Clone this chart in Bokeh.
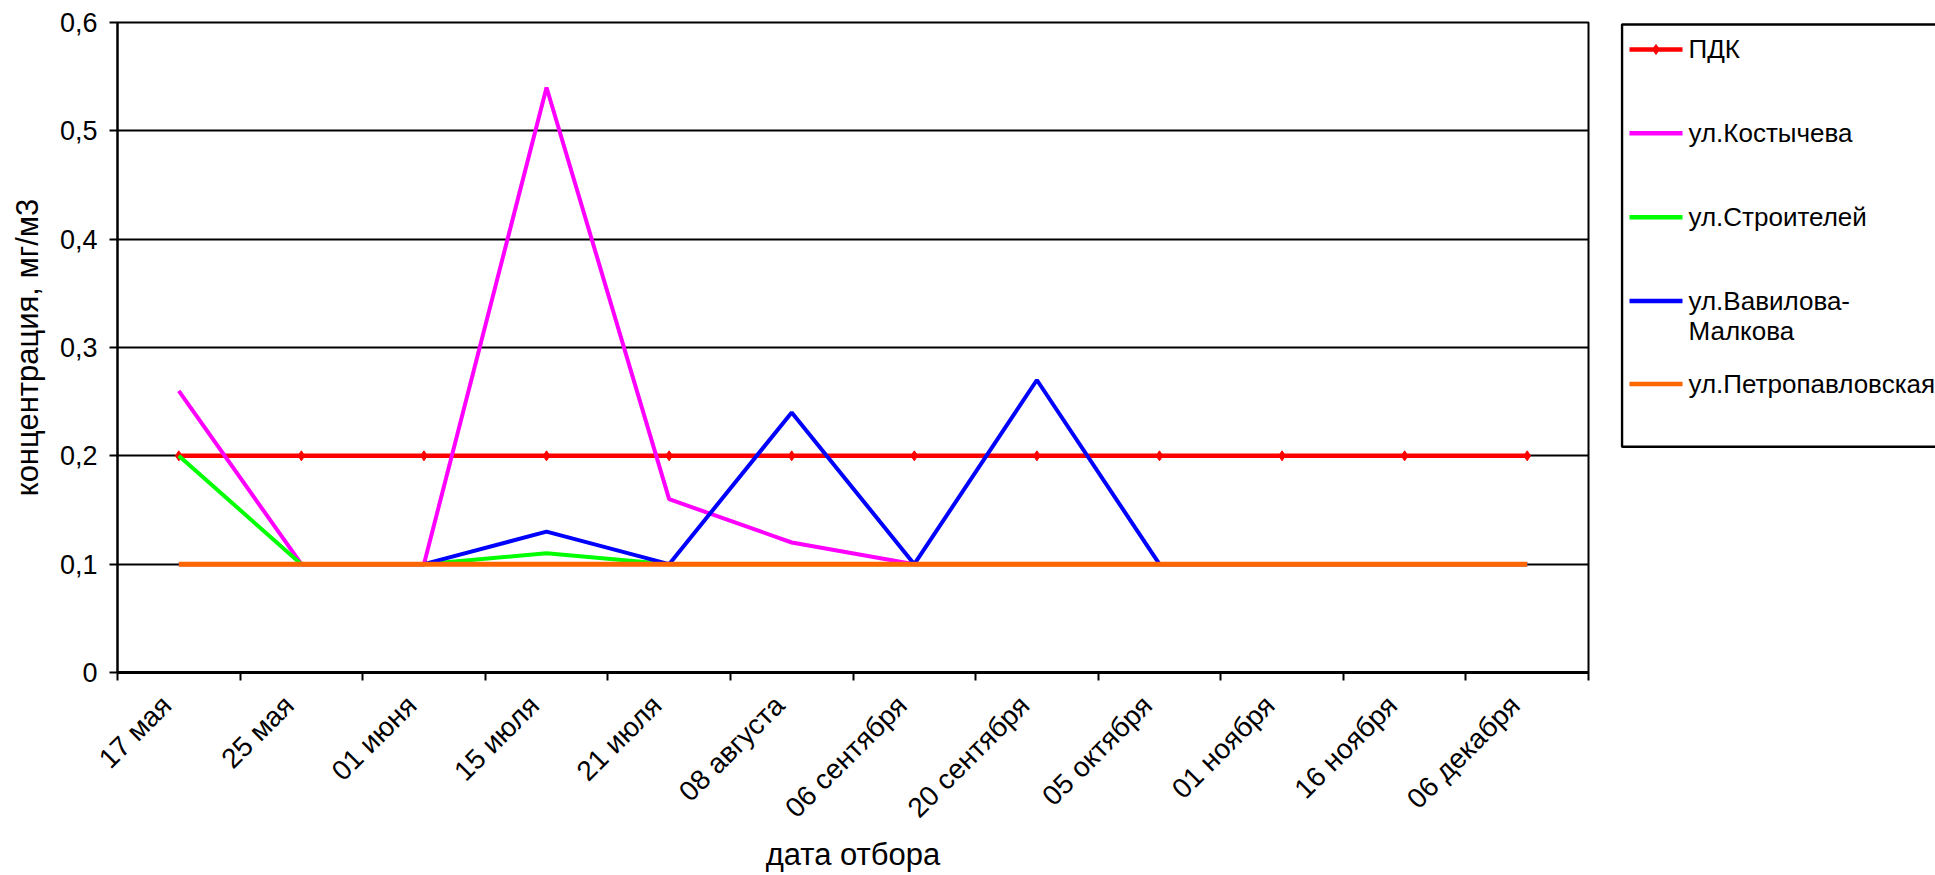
import math
import numpy as np
from bokeh.plotting import figure
from bokeh.layouts import row
from bokeh.models import Range1d, FixedTicker, ColumnDataSource
from bokeh.core.properties import value
from bokeh.embed import file_html
from bokeh.resources import INLINE

# ---------------- data ----------------
dates = ["17 мая", "25 мая", "01 июня", "15 июля", "21 июля", "08 августа",
         "06 сентября", "20 сентября", "05 октября", "01 ноября", "16 ноября", "06 декабря"]
pdk = [0.2, 0.2, 0.2, 0.2, 0.2, 0.2, 0.2, 0.2, 0.2, 0.2, 0.2, 0.2]
kostycheva = [0.26, 0.1, 0.1, 0.54, 0.16, 0.12, 0.1, 0.1, 0.1, 0.1, 0.1, 0.1]
stroiteley = [0.2, 0.1, 0.1, 0.11, 0.1, 0.1, 0.1, 0.1, 0.1, 0.1, 0.1, 0.1]
vavilova = [0.1, 0.1, 0.1, 0.13, 0.1, 0.24, 0.1, 0.27, 0.1, 0.1, 0.1, 0.1]
petropavl = [0.1, 0.1, 0.1, 0.1, 0.1, 0.1, 0.1, 0.1, 0.1, 0.1, 0.1, 0.1]
series_names = ["ПДК", "ул.Костычева", "ул.Строителей", "ул.Вавилова-\nМалкова", "ул.Петропавловская"]
series_colors = ["#FF0000", "#FF00FF", "#00FF00", "#0000FF", "#FF6600"]
y_ticks = [0, 0.1, 0.2, 0.3, 0.4, 0.5, 0.6]
y_tick_labels = ["0", "0,1", "0,2", "0,3", "0,4", "0,5", "0,6"]
x_title = "дата отбора"
y_title = "концентрация, мг/м3"

FONT = "Liberation Sans"
n = len(dates)
xpos = list(np.arange(n) + 0.5)
bounds = list(range(n + 1))
label_shift = 0.1  # labels sit slightly left of the band centre, as in Excel
xlabel_pos = [x - label_shift for x in xpos]

H = 875
TOP, BOTTOM = 22, 202

# ---------------- main chart ----------------
p = figure(width=1620, height=H, output_backend="svg", toolbar_location=None, title=None,
           x_range=Range1d(0, n), y_range=Range1d(0, 0.6),
           min_border_left=117, min_border_right=32, min_border_top=TOP, min_border_bottom=BOTTOM)
p.outline_line_color = "black"
p.outline_line_width = 2
p.background_fill_color = "white"
p.border_fill_color = "white"

p.xgrid.visible = False
p.ygrid.ticker = FixedTicker(ticks=y_ticks)
p.ygrid.grid_line_color = "black"
p.ygrid.grid_line_width = 2
p.ygrid.grid_line_alpha = 1

# y axis
ya = p.yaxis[0]
ya.ticker = FixedTicker(ticks=y_ticks)
ya.major_label_overrides = {t: l for t, l in zip(y_ticks, y_tick_labels)}
ya.major_tick_out = 8
ya.major_tick_in = 0
ya.minor_tick_line_color = None
ya.major_tick_line_width = 2
ya.axis_line_width = 2
ya.major_label_standoff = 12
ya.major_label_text_font = FONT
ya.major_label_text_font_size = "27px"
ya.major_label_text_color = "black"
ya.axis_label = y_title
ya.axis_label_text_font = FONT
ya.axis_label_text_font_size = "31px"
ya.axis_label_text_font_style = "normal"
ya.axis_label_text_color = "black"
ya.axis_label_standoff = 12

# x axis
xa = p.xaxis[0]
xa.ticker = FixedTicker(ticks=xlabel_pos, minor_ticks=bounds)
xa.major_label_overrides = {x: d for x, d in zip(xlabel_pos, dates)}
xa.major_tick_line_color = None
xa.major_tick_out = 0
xa.major_tick_in = 0
xa.minor_tick_out = 8
xa.minor_tick_in = 0
xa.minor_tick_line_color = "black"
xa.minor_tick_line_width = 2
xa.axis_line_width = 3
xa.major_label_orientation = math.pi / 4
xa.major_label_standoff = 20
xa.major_label_text_font = FONT
xa.major_label_text_font_size = "28px"
xa.major_label_text_color = "black"
xa.axis_label = x_title
xa.axis_label_text_font = FONT
xa.axis_label_text_font_size = "31px"
xa.axis_label_text_font_style = "normal"
xa.axis_label_text_color = "black"
xa.axis_label_standoff = 0

series = [pdk, kostycheva, stroiteley, vavilova, petropavl]
widths = [4.5, 4, 4, 4, 5]
for vals, col, w in zip(series, series_colors, widths):
    src = ColumnDataSource(dict(x=xpos, y=vals))
    p.line("x", "y", source=src, line_color=col, line_width=w)
    if vals is pdk:
        p.scatter("x", "y", source=src, marker="diamond", size=10,
                  fill_color=col, line_color=col)

# ---------------- legend panel (frame aligned with the main frame; y in page px) ----------------
LW = 315
lg = figure(width=LW, height=H, output_backend="svg", toolbar_location=None, title=None,
            x_range=Range1d(0, LW), y_range=Range1d(H - BOTTOM, TOP),
            min_border_left=0, min_border_right=0,
            min_border_top=TOP, min_border_bottom=BOTTOM)
lg.axis.visible = False
lg.grid.visible = False
lg.outline_line_color = None
lg.background_fill_color = "white"
lg.border_fill_color = "white"

box_top, box_bottom = 24, 447
lg.quad(left=[1.5], right=[LW + 40], top=[box_top], bottom=[box_bottom],
        fill_color="white", line_color="black", line_width=2.5)

item_y = [49, 133, 217, 301, 384]
sx0, sx1, tx = 9, 62, 68
for name, col, yy in zip(series_names, series_colors, item_y):
    lg.segment(x0=[sx0], y0=[yy], x1=[sx1], y1=[yy], line_color=col, line_width=4.5)
    if name == "ПДК":
        lg.scatter(x=[(sx0 + sx1) / 2], y=[yy], marker="diamond", size=10,
                   fill_color=col, line_color=col)
    lines = name.split("\n")
    for k, t in enumerate(lines):
        lg.text(x=[tx], y=[yy + 30 * k], text=[t], text_font=value(FONT),
                text_font_size="26px", text_baseline="middle", text_align="left",
                text_color="black")

layout = row(p, lg, spacing=0)
open("out.html", "w").write(file_html(layout, INLINE))
